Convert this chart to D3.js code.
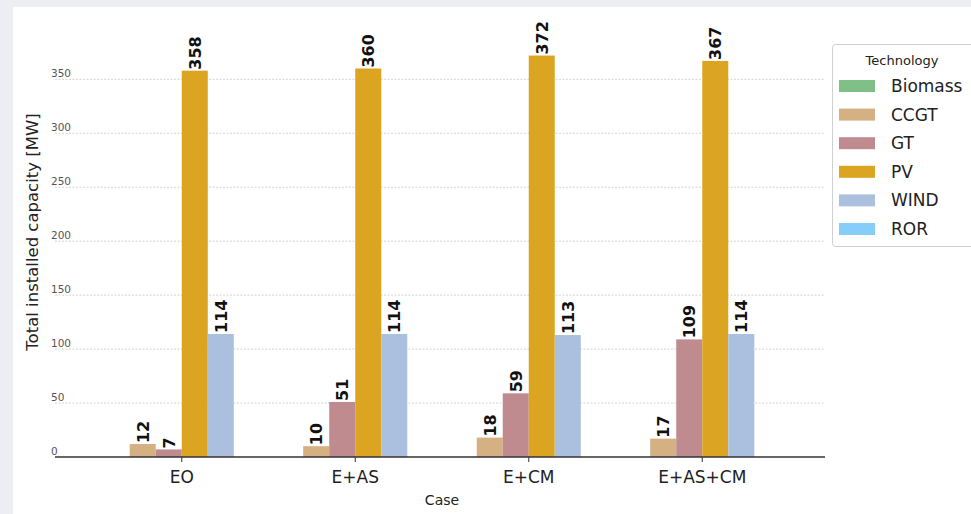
<!DOCTYPE html>
<html>
<head>
<meta charset="utf-8">
<script src="https://cdn.jsdelivr.net/npm/d3@7"></script>
<style>
  body { margin: 0; background: #eceef3; }
  text { font-family: "DejaVu Sans", sans-serif; }
</style>
</head>
<body>
<div id="chart"></div>
<script>
// data
const cases = ["EO", "E+AS", "E+CM", "E+AS+CM"];
const techs = ["Biomass", "CCGT", "GT", "PV", "WIND", "ROR"];
const biomass = [0, 0, 0, 0];
const ccgt = [12, 10, 18, 17];
const gt = [7, 51, 59, 109];
const pv = [358, 360, 372, 367];
const wind = [114, 114, 113, 114];
const ror = [0, 0, 0, 0];
const yTicks = [0, 50, 100, 150, 200, 250, 300, 350];

const techColors = ["#80bf86", "#d4b082", "#c08b8f", "#dba521", "#abc0de", "#87cdf9"];
const series = [biomass, ccgt, gt, pv, wind, ror];

const W = 971, H = 514;
const svg = d3.select("#chart").append("svg")
  .attr("width", W)
  .attr("height", H);

svg.append("rect").attr("width", W).attr("height", H).attr("fill", "#eceef3");
svg.append("rect").attr("x", 13).attr("y", 7).attr("width", W - 13).attr("height", H - 7).attr("fill", "#ffffff");

// scales
const x = d3.scalePoint()
  .domain(cases)
  .range([95, 789])
  .padding(0.5);
const step = x.step();
const xInner = d3.scaleBand()
  .domain(techs)
  .range([-step * 0.45, step * 0.45]);

const y = d3.scaleLinear()
  .domain([0, 350])
  .range([457, 79.3]);

const axisLeft = 55, axisRight = 825;

// gridlines
svg.append("g").selectAll("line")
  .data(yTicks.filter(d => d > 0))
  .join("line")
  .attr("x1", axisLeft)
  .attr("x2", axisRight)
  .attr("y1", d => y(d))
  .attr("y2", d => y(d))
  .attr("stroke", "#c8c8c8")
  .attr("stroke-width", 0.8)
  .attr("stroke-dasharray", "2,1.5");

// y tick labels (sitting just above gridlines)
svg.append("g").selectAll("text")
  .data(yTicks)
  .join("text")
  .attr("x", 51)
  .attr("y", d => y(d) - 2)
  .attr("font-size", 10.5)
  .attr("fill", "#555")
  .text(d => d);

// bars
const rows = [];
cases.forEach((c, i) => {
  techs.forEach((t, j) => {
    rows.push({ c: c, t: t, v: series[j][i], color: techColors[j] });
  });
});

svg.append("g").selectAll("rect")
  .data(rows)
  .join("rect")
  .attr("x", d => x(d.c) + xInner(d.t))
  .attr("width", xInner.bandwidth())
  .attr("y", d => y(d.v))
  .attr("height", d => y(0) - y(d.v))
  .attr("fill", d => d.color);

// value labels
svg.append("g").selectAll("text")
  .data(rows.filter(d => d.v > 0))
  .join("text")
  .attr("transform", d => `translate(${x(d.c) + xInner(d.t) + xInner.bandwidth() / 2 + 6},${y(d.v) - 1}) rotate(-90)`)
  .attr("font-size", 16)
  .attr("font-weight", "bold")
  .attr("fill", "#111")
  .text(d => d.v);

// x axis line
svg.append("line")
  .attr("x1", axisLeft)
  .attr("x2", axisRight)
  .attr("y1", y(0))
  .attr("y2", y(0))
  .attr("stroke", "#333")
  .attr("stroke-width", 1.5);

const xAxis = svg.append("g");
xAxis.selectAll("line")
  .data(cases)
  .join("line")
  .attr("x1", d => x(d))
  .attr("x2", d => x(d))
  .attr("y1", y(0))
  .attr("y2", y(0) + 5)
  .attr("stroke", "#333")
  .attr("stroke-width", 1);
xAxis.selectAll("text")
  .data(cases)
  .join("text")
  .attr("x", d => x(d))
  .attr("y", 483)
  .attr("text-anchor", "middle")
  .attr("font-size", 17)
  .attr("fill", "#222")
  .text(d => d);

// axis titles
svg.append("text")
  .attr("x", 442)
  .attr("y", 505)
  .attr("text-anchor", "middle")
  .attr("font-size", 14)
  .attr("fill", "#222")
  .text("Case");

svg.append("text")
  .attr("transform", "translate(38,232) rotate(-90)")
  .attr("text-anchor", "middle")
  .attr("font-size", 16.5)
  .attr("fill", "#222")
  .text("Total installed capacity [MW]");

// legend
const legend = svg.append("g");
legend.append("rect")
  .attr("x", 832.5)
  .attr("y", 44.5)
  .attr("width", 150)
  .attr("height", 202)
  .attr("rx", 3)
  .attr("fill", "#fff")
  .attr("stroke", "#d0d0d0");
legend.append("text")
  .attr("x", 902)
  .attr("y", 65)
  .attr("text-anchor", "middle")
  .attr("font-size", 13)
  .attr("fill", "#222")
  .text("Technology");

const items = legend.selectAll("g.item")
  .data(techs)
  .join("g")
  .attr("class", "item")
  .attr("transform", (d, i) => `translate(0,${86 + i * 28.6})`);
items.append("rect")
  .attr("x", 839)
  .attr("y", -6)
  .attr("width", 36)
  .attr("height", 12)
  .attr("fill", (d, i) => techColors[i]);
items.append("text")
  .attr("x", 891)
  .attr("y", 6)
  .attr("font-size", 17)
  .attr("fill", "#222")
  .text(d => d);
</script>
</body>
</html>
